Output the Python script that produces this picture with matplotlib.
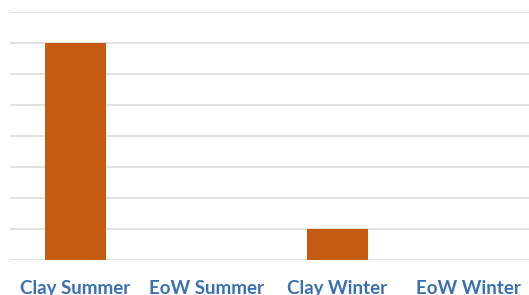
import matplotlib.pyplot as plt
import numpy as np

categories = ['Clay Summer', 'EoW Summer', 'Clay Winter', 'EoW Winter']
values = [7, 0, 1, 0]

W, H = 529, 295
fig = plt.figure(figsize=(W / 100, H / 100), dpi=100)
# axes runs a bit past the right edge, like the cropped original
ax = fig.add_axes([10 / W, 1 - 260 / H, 524 / W, 248 / H])

x = np.arange(len(categories))
ax.bar(x, values, width=0.46, color='#C55A11', zorder=3)

ax.set_xlim(-0.5, len(categories) - 0.5)
ax.set_ylim(0, 8)
ax.set_yticks(np.arange(0, 9, 1))
ax.yaxis.grid(True, color='#D9D9D9', linewidth=1.1, zorder=0)
ax.tick_params(axis='y', left=False, labelleft=False)
ax.tick_params(axis='x', bottom=False, pad=11)
ax.set_xticks(x)
ax.set_xticklabels(categories, fontsize=13.5, fontweight='bold',
                   color='#3A70B3', family='Lato')
for s in ax.spines.values():
    s.set_visible(False)

fig.savefig('out.png', dpi=100)
